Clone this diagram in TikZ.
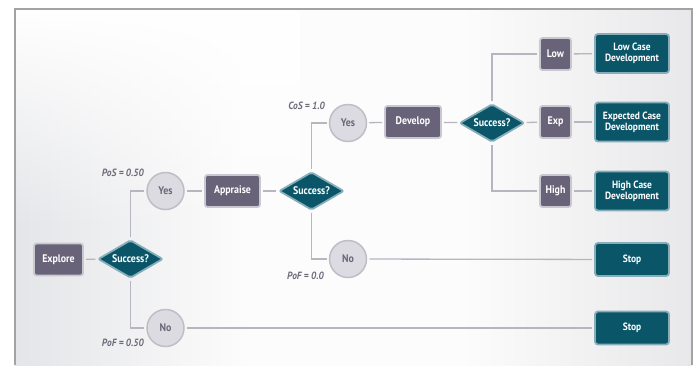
\documentclass[tikz,border=0pt]{standalone}
\usepackage{fontspec}
\setmainfont{PT Sans}[FakeStretch=0.9]
\usetikzlibrary{shapes.geometric,fadings}
\definecolor{purp}{HTML}{686378}
\definecolor{purpb}{HTML}{C9C8D0}
\definecolor{tealf}{HTML}{0A5568}
\definecolor{tealb}{HTML}{86AEBA}
\definecolor{circf}{HTML}{DCDBE2}
\definecolor{circb}{HTML}{BFBEC7}
\definecolor{circt}{HTML}{6A6878}
\definecolor{connc}{HTML}{B7B6BF}
\definecolor{lblc}{HTML}{6E6C7A}
\definecolor{framec}{HTML}{A3A3A6}
\definecolor{bgl}{HTML}{E4E5E8}
\definecolor{bgm}{HTML}{FCFCFC}
\definecolor{bgr}{HTML}{E8E8EA}
\pgfdeclarehorizontalshading{bgshade}{100bp}{color(0bp)=(bgl); color(25bp)=(bgl); color(42bp)=(bgm); color(58bp)=(bgm); color(75bp)=(bgr); color(100bp)=(bgr)}
\tikzset{
  pbox/.style={rectangle, rounded corners=2.5pt, fill=purp, draw=purpb, line width=1.8pt,
    text=white, font=\bfseries\fontsize{11}{12}\selectfont, minimum height=32pt, inner sep=0pt},
  dia/.style={diamond, fill=tealf, draw=tealb, line width=1.8pt, minimum width=65pt,
    minimum height=38pt, inner sep=0pt, aspect=1.7, rounded corners=2pt,
    text=white, font=\bfseries\fontsize{11}{12}\selectfont},
  tbox/.style={rectangle, rounded corners=3pt, fill=tealf, draw=tealb, line width=1.8pt,
    minimum width=74pt, inner sep=0pt, align=center, text=white,
    font=\bfseries\fontsize{10.5}{11}\selectfont},
  circ/.style={circle, minimum size=37pt, inner sep=0pt, fill=circf, draw=circb,
    line width=1.5pt, text=circt, font=\bfseries\fontsize{11}{12}\selectfont},
  cn/.style={draw=connc, line width=1.3pt, shorten >=2pt, shorten <=2pt},
  lbl/.style={anchor=east, inner sep=0pt, text=lblc, font=\bfseries\itshape\fontsize{10.5}{11}\selectfont}
}
\begin{document}
\begin{tikzpicture}[x=1pt,y=-1pt]
\useasboundingbox (0,0) rectangle (694,365);
\fill[white] (0,0) rectangle (694,365);
\shade[shading=bgshade] (15,9) rectangle (692,365);
\fill[white, path fading=south] (15,9) rectangle (300,230);
\draw[framec, line width=1.2pt] (15,365) -- (15,9) -- (692,9) -- (692,365);

% nodes
\node[pbox, minimum width=49pt] (explore) at (58.5,259.5) {Explore};
\node[dia] (d1) at (130.5,259) {Success?};
\node[circ] (yes1) at (165.5,191) {Yes};
\node[circ] (no1) at (165.5,328) {No};
\node[pbox, minimum width=55pt] (appraise) at (232.5,191) {Appraise};
\node[dia] (d2) at (311.5,191) {Success?};
\node[circ] (yes2) at (348,123) {Yes};
\node[circ] (no2) at (348,259) {No};
\node[pbox, minimum width=56pt] (develop) at (413,122) {Develop};
\node[dia] (d3) at (492,123) {Success?};
\node[pbox, minimum width=31pt] (low) at (555.5,54) {Low};
\node[pbox, minimum width=31pt] (exp) at (555.5,122) {Exp};
\node[pbox, minimum width=31pt] (high) at (555.5,191) {High};
\node[tbox, minimum height=39pt] (lowcase) at (632,53.5) {Low Case\\Development};
\node[tbox, minimum height=39pt] (expcase) at (632,122) {Expected Case\\Development};
\node[tbox, minimum height=39pt] (highcase) at (632,191) {High Case\\Development};
\node[tbox, minimum height=33pt] (stop1) at (632,259.5) {Stop};
\node[tbox, minimum height=33pt] (stop2) at (632,328) {Stop};

% labels
\node[lbl] (pos) at (144,173) {PoS = 0.50};
\node[lbl] (pof1) at (144,343) {PoF = 0.50};
\node[lbl] (cos) at (325,106) {CoS = 1.0};
\node[lbl] (pof2) at (324,276) {PoF = 0.0};

% connectors
\draw[cn] (explore) -- (d1);
\draw[cn] (d1.north) |- (yes1);
\draw[cn] (d1.south) |- (no1);
\draw[cn] (yes1) -- (appraise);
\draw[cn] (appraise) -- (d2);
\draw[cn] (d2.north) |- (yes2);
\draw[cn] (d2.south) |- (no2);
\draw[cn] (no2) -- (stop1);
\draw[cn] (no1) -- (stop2);
\draw[cn] (yes2) -- (develop);
\draw[cn] (develop) -- (d3);
\draw[cn] (d3.north) |- (low);
\draw[cn] (d3) -- (exp);
\draw[cn] (d3.south) |- (high);
\draw[cn] (low) -- (lowcase);
\draw[cn] (exp) -- (expcase);
\draw[cn] (high) -- (highcase);
\end{tikzpicture}
\end{document}
